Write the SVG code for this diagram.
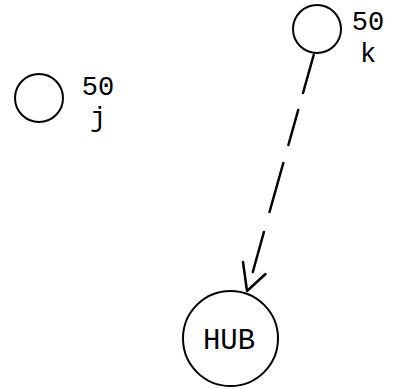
<svg xmlns="http://www.w3.org/2000/svg" width="397" height="389" viewBox="0 0 397 389">
  <style>
    .node { fill: #ffffff; stroke: #000000; stroke-width: 2; }
    .label { font-family: "Liberation Mono", "Courier New", monospace; font-size: 27px; fill: #000000; text-anchor: middle; }
    .hub-label { font-size: 29px; }
    .edge { fill: none; stroke: #000000; stroke-width: 2.5; stroke-linecap: round; stroke-linejoin: round; }
  </style>
  <rect width="397" height="389" fill="#ffffff"/>

  <g id="connectors">
    <!-- dashed link k -> HUB, drawn as separate strokes -->
    <path class="edge" d="M313.7,55 L303,93 M298.2,110 L288.4,145 M283.3,163 L269.5,212 M263.9,232 L252.8,272"/>
    <!-- open arrowhead -->
    <path class="edge" d="M243,262 L247,291 L265.5,274"/>
  </g>

  <g id="node-j">
    <circle class="node" cx="39" cy="98" r="24"/>
    <text class="label" x="98" y="95">50</text>
    <text class="label" x="98" y="126">j</text>
  </g>

  <g id="node-k">
    <circle class="node" cx="317" cy="29" r="24"/>
    <text class="label" x="368" y="30">50</text>
    <text class="label" x="368" y="62">k</text>
  </g>

  <g id="node-hub">
    <circle class="node" cx="230.5" cy="338.5" r="47.5"/>
    <text class="label hub-label" x="229" y="349">HUB</text>
  </g>
</svg>
